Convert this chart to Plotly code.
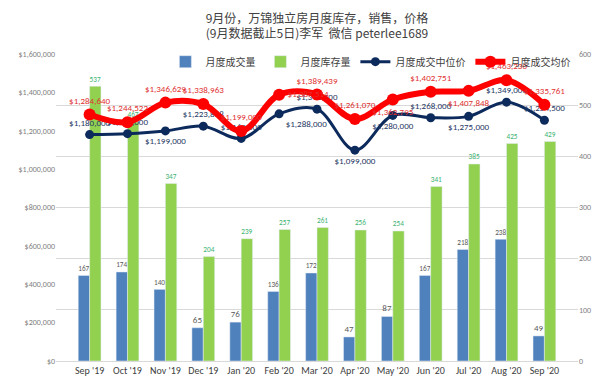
import plotly.graph_objects as go

months = ["Sep '19", "Oct '19", "Nov '19", "Dec '19", "Jan '20", "Feb '20", "Mar '20",
          "Apr '20", "May '20", "Jun '20", "Jul '20", "Aug '20", "Sep '20"]
sales = [167, 174, 140, 65, 76, 136, 172, 47, 87, 167, 218, 238, 49]
inventory = [537, 467, 347, 204, 239, 257, 261, 256, 254, 341, 385, 425, 429]
median_price = [1180000, 1185000, 1199000, 1223888, 1160000, 1288000, 1312500,
                1099000, 1280000, 1268000, 1275000, 1349000, 1254500]
avg_price = [1284640, 1244522, 1346629, 1338963, 1199000, 1387514, 1389439,
             1261070, 1362795, 1402751, 1407848, 1463230, 1335761]

median_pos = ["top center", "top center", "bottom center", "top center", "top center",
              "bottom right", "top center", "bottom center", "bottom center", "top center",
              "bottom center", "top center", "top center"]
avg_pos = ["top center", "top center", "top center", "top center", "top center",
           "middle right", "top center", "top center", "bottom center", "top center",
           "bottom center", "top center", "top center"]

font_fam = "Calibri, Carlito, 'Noto Sans', 'Noto Sans CJK SC', sans-serif"

fig = go.Figure()
fig.add_trace(go.Bar(x=months, y=sales, name="月度成交量", marker_color="#4F81BD",
                     text=[str(v) for v in sales], textposition="outside",
                     textfont=dict(size=9, color="#595959"), cliponaxis=False, yaxis="y"))
fig.add_trace(go.Bar(x=months, y=inventory, name="月度库存量", marker_color="#92D050",
                     text=[str(v) for v in inventory], textposition="outside",
                     textfont=dict(size=9, color="#3CB371"), cliponaxis=False, yaxis="y"))
fig.add_trace(go.Scatter(x=months, y=median_price, name="月度成交中位价", mode="lines+markers+text",
                         line=dict(color="#0D2A5C", width=3, shape="spline", smoothing=1),
                         marker=dict(size=9, color="#0D2A5C"),
                         text=[f"${v:,}" for v in median_price], textposition=median_pos,
                         textfont=dict(size=9, color="#1F3864"), cliponaxis=False, yaxis="y2"))
fig.add_trace(go.Scatter(x=months, y=avg_price, name="月度成交均价", mode="lines+markers+text",
                         line=dict(color="#FF0000", width=6, shape="spline", smoothing=1),
                         marker=dict(size=12, color="#FF0000"),
                         text=[f"${v:,}" for v in avg_price], textposition=avg_pos,
                         textfont=dict(size=9, color="#E03030"), cliponaxis=False, yaxis="y2"))

fig.update_layout(
    width=600, height=391,
    margin=dict(l=48, r=30, t=46, b=38),
    paper_bgcolor="white", plot_bgcolor="white",
    font=dict(family=font_fam, color="#595959"),
    title=dict(text="9月份，万锦独立房月度库存，销售，价格<br>(9月数据截止5日)李军  微信 peterlee1689",
               x=0.5, xanchor="center", xref="paper", yref="container", y=0.962, yanchor="middle",
               font=dict(size=12, color="#404040", family="'Noto Sans CJK SC', sans-serif")),
    barmode="group", bargap=0.4, bargroupgap=0,
    showlegend=True,
    legend=dict(orientation="h", x=0.995, xanchor="right", y=0.975, yanchor="middle",
                font=dict(size=10, color="#404040", family="'Noto Sans CJK SC', sans-serif"),
                bgcolor="rgba(0,0,0,0)", itemwidth=30),
    xaxis=dict(type="category", showgrid=False, showline=True, linecolor="#D9D9D9",
               tickfont=dict(size=10, color="#404040"), ticks=""),
    yaxis=dict(side="right", range=[0, 600], dtick=100, showgrid=True, gridcolor="#D9D9D9",
               zeroline=False, tickfont=dict(size=8, color="#7F7F7F"), ticks=""),
    yaxis2=dict(side="left", overlaying="y", range=[0, 1600000], dtick=200000,
                tickprefix="$", tickformat=",", showgrid=False, zeroline=False,
                tickfont=dict(size=8, color="#7F7F7F"), ticks=""),
)

fig.write_html("out.html")
